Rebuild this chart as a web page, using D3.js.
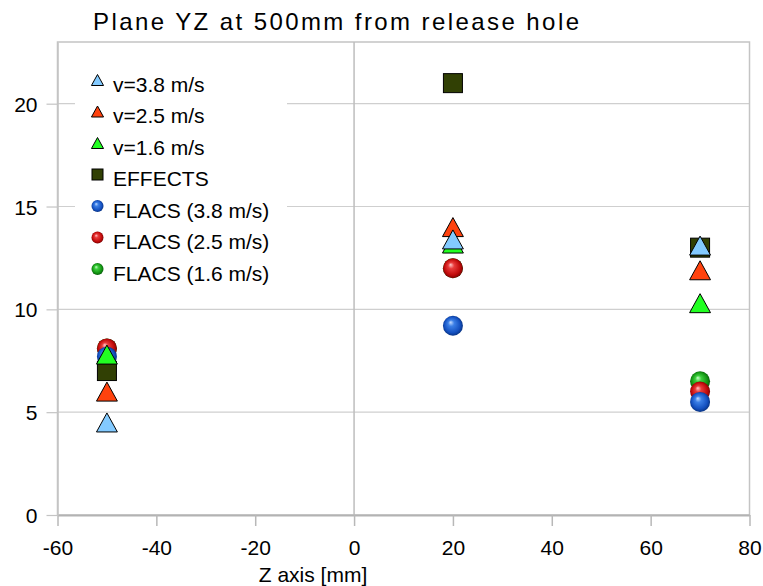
<!DOCTYPE html>
<html>
<head>
<meta charset="utf-8">
<script src="https://cdn.jsdelivr.net/npm/d3@7"></script>
<style>
  html, body { margin: 0; padding: 0; background: #ffffff; }
  svg { display: block; font-family: "Liberation Sans", Arial, sans-serif; }
</style>
</head>
<body>
<svg id="chart" width="763" height="586"></svg>
<script>
// ---- data ----
const titleText = "Plane YZ at 500mm from release hole";
const xLabel = "Z axis [mm]";
const zPositions = [-50, 20, 70];
const v38 = [4.5, 13.4, 13.1];
const v25 = [6.0, 14.0, 11.9];
const v16 = [7.8, 13.2, 10.3];
const effects = [7.0, 21.0, 13.0];
const flacs38 = [7.7, 9.2, 5.5];
const flacs25 = [8.1, 12.0, 6.0];
const flacs16 = [8.1, 12.0, 6.5];
const xTicks = [-60, -40, -20, 0, 20, 40, 60, 80];
const yTicks = [0, 5, 10, 15, 20];

const seriesNames = ["v=3.8 m/s", "v=2.5 m/s", "v=1.6 m/s", "EFFECTS",
                     "FLACS (3.8 m/s)", "FLACS (2.5 m/s)", "FLACS (1.6 m/s)"];
const seriesValues = [v38, v25, v16, effects, flacs38, flacs25, flacs16];
const seriesKind = ["tri", "tri", "tri", "sq", "sph", "sph", "sph"];
const seriesColor = ["#83caff", "#ff420e", "#22ff22", "#314004", "blue", "red", "green"];

// ---- layout ----
const svg = d3.select("#chart");
const pL = 57.5, pR = 749.5, pT = 42, pB = 515;
const x = d3.scaleLinear().domain([-60, 80]).range([pL, pR]);
const y = d3.scaleLinear().domain([0, 23]).range([pB, pT]);

// gradients for spheres
const defs = svg.append("defs");
const sphereStops = {
  blue:  ["#c4dcff", "#3b7fe6", "#1450c0", "#042a70"],
  red:   ["#ffc8c8", "#e83a3a", "#c00a0a", "#660000"],
  green: ["#ccffcc", "#3ccf3c", "#139413", "#044a08"]
};
Object.entries(sphereStops).forEach(([k, c]) => {
  const g = defs.append("radialGradient").attr("id", "sph-" + k)
    .attr("cx", "50%").attr("cy", "50%").attr("r", "55%")
    .attr("fx", "38%").attr("fy", "32%");
  g.append("stop").attr("offset", "0%").attr("stop-color", c[0]);
  g.append("stop").attr("offset", "28%").attr("stop-color", c[1]);
  g.append("stop").attr("offset", "72%").attr("stop-color", c[2]);
  g.append("stop").attr("offset", "100%").attr("stop-color", c[3]);
});

// horizontal gridlines
svg.append("g")
  .selectAll("line").data(yTicks.filter(t => t > 0)).join("line")
  .attr("x1", pL).attr("x2", pR)
  .attr("y1", d => y(d)).attr("y2", d => y(d))
  .attr("stroke", "#cfcfcf").attr("stroke-width", 1.2);

// plot frame
svg.append("rect").attr("x", pL).attr("y", pT)
  .attr("width", pR - pL).attr("height", pB - pT)
  .attr("fill", "none").attr("stroke", "#c4c4c4").attr("stroke-width", 1.5);

// vertical line at x = 0
svg.append("line").attr("x1", x(0)).attr("x2", x(0))
  .attr("y1", pT).attr("y2", pB)
  .attr("stroke", "#bdbdbd").attr("stroke-width", 1.5);

const fmt = d => String(d);

// x axis
const xAxis = svg.append("g").attr("transform", `translate(0,${pB})`)
  .call(d3.axisBottom(x).tickValues(xTicks).tickFormat(fmt).tickSize(11).tickSizeOuter(0).tickPadding(14));
xAxis.select(".domain").attr("stroke", "#b3b3b3").attr("stroke-width", 2.2);
xAxis.selectAll(".tick line").attr("stroke", "#b8b8b8").attr("stroke-width", 1.5);
xAxis.selectAll(".tick text").attr("fill", "#000").attr("font-size", 21)
  .attr("font-family", "Liberation Sans, Arial, sans-serif");

// y axis
const yAxis = svg.append("g").attr("transform", `translate(${pL},0)`)
  .call(d3.axisLeft(y).tickValues(yTicks).tickFormat(fmt).tickSize(11).tickSizeOuter(0).tickPadding(9));
yAxis.select(".domain").attr("stroke", "#c4c4c4").attr("stroke-width", 1.5);
yAxis.selectAll(".tick line").attr("stroke", "#c4c4c4").attr("stroke-width", 1.2);
yAxis.selectAll(".tick text").attr("fill", "#000").attr("font-size", 21)
  .attr("font-family", "Liberation Sans, Arial, sans-serif").attr("dy", "0.36em");

// title
svg.append("text").attr("x", 93).attr("y", 30)
  .attr("font-size", 24).attr("fill", "#000")
  .attr("textLength", 486).attr("lengthAdjust", "spacing")
  .text(titleText);

// x axis title
svg.append("text").attr("x", 313).attr("y", 582)
  .attr("text-anchor", "middle").attr("font-size", 21).attr("fill", "#000")
  .text(xLabel);

// marker drawing
function drawMarker(g, kind, color, cx, cy, s) {
  if (kind === "tri") {
    const w = s * 1.1, h = s;
    g.append("path")
      .attr("d", `M${cx},${cy - h / 2}L${cx + w / 2},${cy + h / 2}L${cx - w / 2},${cy + h / 2}Z`)
      .attr("fill", color).attr("stroke", "#000").attr("stroke-width", 1).attr("stroke-linejoin", "miter");
  } else if (kind === "sq") {
    g.append("rect").attr("x", cx - s / 2).attr("y", cy - s / 2)
      .attr("width", s).attr("height", s)
      .attr("fill", color).attr("stroke", "#000").attr("stroke-width", 1);
  } else {
    g.append("circle").attr("cx", cx).attr("cy", cy).attr("r", s / 2)
      .attr("fill", `url(#sph-${color})`);
  }
}

// points: drawn in reverse series order (last series at bottom)
const pts = svg.append("g");
for (let i = seriesNames.length - 1; i >= 0; i--) {
  const size = seriesKind[i] === "sph" ? 20 : 19;
  seriesValues[i].forEach((v, j) => {
    drawMarker(pts, seriesKind[i], seriesColor[i], x(zPositions[j]), y(v), size);
  });
}

// legend
const leg = svg.append("g");
leg.append("rect").attr("x", 75).attr("y", 66).attr("width", 212).attr("height", 224).attr("fill", "#fff");
seriesNames.forEach((name, i) => {
  const cy = 84 + i * 31.5;
  const size = seriesKind[i] === "sph" ? 12 : 11;
  drawMarker(leg, seriesKind[i], seriesColor[i], 97.5, cy - 4, size);
  leg.append("text").attr("x", 113).attr("y", cy).attr("dy", "0.36em")
    .attr("font-size", 21).attr("fill", "#000").text(name);
});
</script>
</body>
</html>
